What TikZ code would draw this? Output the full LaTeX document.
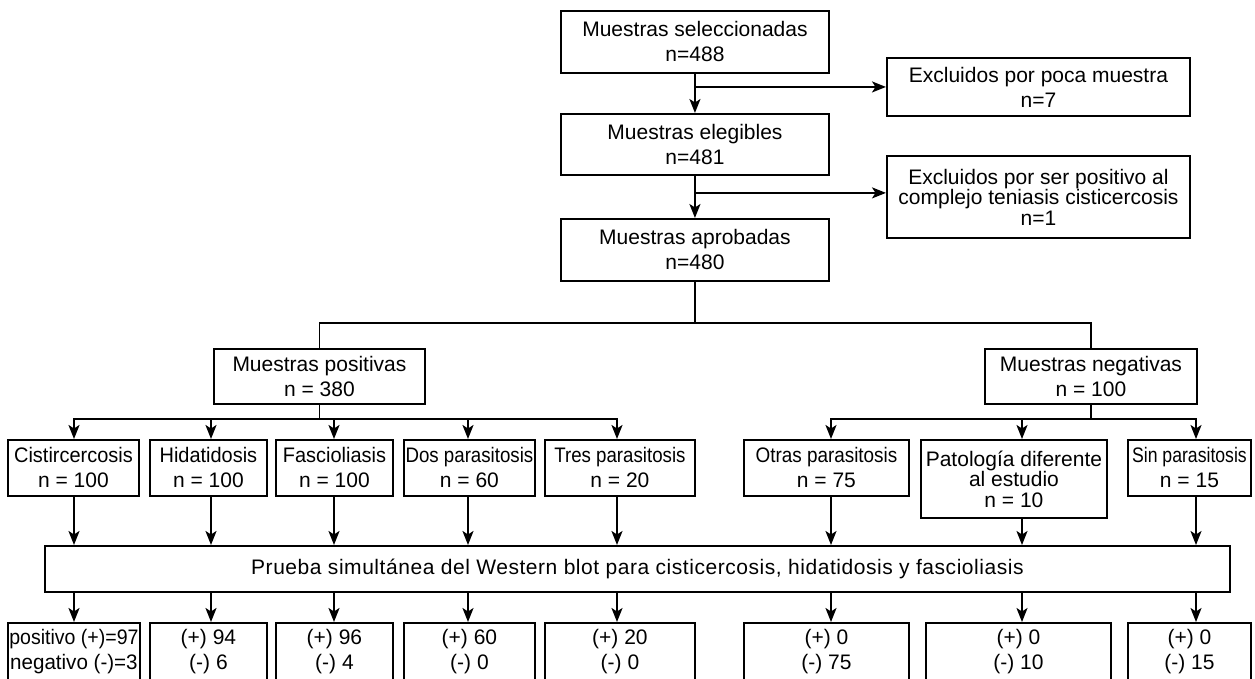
\documentclass[tikz,border=0pt]{standalone}
\usepackage{fontspec}
\setmainfont{Liberation Sans}
\newfontfamily\wbfont{Liberation Sans}[LetterSpace=2.6]
\usetikzlibrary{arrows.meta,positioning,calc}
\tikzset{
  blk/.style     = {draw, line width=1.9pt, align=center, inner sep=0pt, anchor=north west,
                    font=\fontsize{21}{25}\selectfont},
  tallblk/.style = {blk, font=\fontsize{21}{20.5}\selectfont},
  ln/.style      = {line width=1.8pt},
  ar/.style      = {-{Stealth[length=14pt,width=11pt,inset=3.5pt]}, line width=1.8pt}
}
\newcommand{\sqz}[2]{\scalebox{#1}[1]{#2}}

\begin{document}
\begin{tikzpicture}[x=1pt, y=-1pt]
\clip (0,0) rectangle (1255,679);
% ---------------- main column ----------------
\node[blk, minimum width=268, minimum height=62] (sel) at (560,10)
      {Muestras seleccionadas\\ n=488};
\node[blk, minimum width=268, minimum height=61] (eleg) at (560,113)
      {Muestras elegibles\\ n=481};
\node[blk, minimum width=268, minimum height=62] (aprob) at (560,218)
      {Muestras aprobadas\\ n=480};

% ---------------- exclusions ----------------
\node[blk, minimum width=303, minimum height=58] (exc1) at (886,57)
      {Excluidos por poca muestra\\ n=7};
\node[tallblk, minimum width=303, minimum height=82] (exc2) at (886,155)
      {Excluidos por ser positivo al\\ complejo teniasis cisticercosis\\ n=1};

% ---------------- positive / negative ----------------
\node[blk, minimum width=211, minimum height=55] (pos) at (213,348)
      {Muestras positivas\\ n = 380};
\node[blk, minimum width=212, minimum height=55] (neg) at (984,348)
      {Muestras negativas\\ n = 100};

% ---------------- groups ----------------
\node[blk, minimum width=131, minimum height=56] (cis) at (7,439)
      {\sqz{0.95}{Cistircercosis}\\ n = 100};
\node[blk, minimum width=117, minimum height=56] (hid) at (149,439)
      {\sqz{0.95}{Hidatidosis}\\ n = 100};
\node[blk, minimum width=117, minimum height=56] (fas) at (275,439)
      {\sqz{0.95}{Fascioliasis}\\ n = 100};
\node[blk, minimum width=131, minimum height=56] (dos) at (403,439)
      {\sqz{0.89}{Dos parasitosis}\\ n = 60};
\node[blk, minimum width=150, minimum height=56] (tres) at (544,439)
      {\sqz{0.89}{Tres parasitosis}\\ n = 20};
\node[blk, minimum width=165, minimum height=56] (otr) at (743,439)
      {\sqz{0.9}{Otras parasitosis}\\ n = 75};
\node[tallblk, minimum width=186, minimum height=78] (pat) at (920,439)
      {Patología diferente\\ al estudio\\ n = 10};
\node[blk, minimum width=123, minimum height=56] (sin) at (1127,439)
      {\sqz{0.84}{Sin parasitosis}\\ n = 15};

% ---------------- test ----------------
\node[blk, minimum width=1185, minimum height=46] (wb) at (44,545)
      {\wbfont Prueba simultánea del Western blot para cisticercosis, hidatidosis y fascioliasis};

% ---------------- results ----------------
\node[blk, minimum width=132, minimum height=58] (res1) at (7,622)
      {\sqz{0.93}{positivo (+)=97}\\ \sqz{0.98}{negativo (-)=3}};
\node[blk, minimum width=117, minimum height=58] (res2) at (149,622) {(+) 94\\ (-) 6};
\node[blk, minimum width=117, minimum height=58] (res3) at (275,622) {(+) 96\\ (-) 4};
\node[blk, minimum width=131, minimum height=58] (res4) at (403,622) {(+) 60\\ (-) 0};
\node[blk, minimum width=150, minimum height=58] (res5) at (544,622) {(+) 20\\ (-) 0};
\node[blk, minimum width=165, minimum height=58] (res6) at (743,622) {(+) 0\\ (-) 75};
\node[blk, minimum width=185, minimum height=58] (res7) at (925,622) {(+) 0\\ (-) 10};
\node[blk, minimum width=123, minimum height=58] (res8) at (1127,622) {(+) 0\\ (-) 15};

% arrow columns
\coordinate (k1) at (74,0);
\coordinate (k2) at (211,0);
\coordinate (k3) at (334,0);
\coordinate (k4) at (468,0);
\coordinate (k5) at (617,0);
\coordinate (k6) at (831,0);
\coordinate (k7) at (1022,0);
\coordinate (k8) at (1196,0);

% ---------------- edges ----------------
\draw[ar] (sel.south) -- (eleg.north);
\draw[ar] (sel.south |- exc1.west) -- (exc1.west);
\draw[ar] (eleg.south) -- (aprob.north);
\path (eleg.south) ++(0,17) coordinate (br2);
\draw[ar] (br2) -- (br2 -| exc2.west);

\draw[ln] (aprob.south) -- ++(0,41) coordinate (split);
\draw[ln] (pos.north) |- (split) -| (neg.north);

\draw[ln] (pos.south) -- ++(0,14) coordinate (pj);
\draw[ar] (pj) -| (k1 |- cis.north);
\draw[ar] (pj) -| (k2 |- hid.north);
\draw[ar] (pj) -| (k3 |- fas.north);
\draw[ar] (pj) -| (k4 |- dos.north);
\draw[ar] (pj) -| (k5 |- tres.north);

\draw[ln] (neg.south) -- ++(0,14) coordinate (nj);
\draw[ar] (nj) -| (k6 |- otr.north);
\draw[ar] (nj) -| (k7 |- pat.north);
\draw[ar] (nj) -| (k8 |- sin.north);

% into the test
\draw[ar] (k1 |- cis.south) -- (k1 |- wb.north);
\draw[ar] (k2 |- hid.south) -- (k2 |- wb.north);
\draw[ar] (k3 |- fas.south) -- (k3 |- wb.north);
\draw[ar] (k4 |- dos.south) -- (k4 |- wb.north);
\draw[ar] (k5 |- tres.south) -- (k5 |- wb.north);
\draw[ar] (k6 |- otr.south) -- (k6 |- wb.north);
\draw[ar] (k7 |- pat.south) -- (k7 |- wb.north);
\draw[ar] (k8 |- sin.south) -- (k8 |- wb.north);

% out of the test
\draw[ar] (k1 |- wb.south) -- (k1 |- res1.north);
\draw[ar] (k2 |- wb.south) -- (k2 |- res2.north);
\draw[ar] (k3 |- wb.south) -- (k3 |- res3.north);
\draw[ar] (k4 |- wb.south) -- (k4 |- res4.north);
\draw[ar] (k5 |- wb.south) -- (k5 |- res5.north);
\draw[ar] (k6 |- wb.south) -- (k6 |- res6.north);
\draw[ar] (k7 |- wb.south) -- (k7 |- res7.north);
\draw[ar] (k8 |- wb.south) -- (k8 |- res8.north);

\end{tikzpicture}
\end{document}
